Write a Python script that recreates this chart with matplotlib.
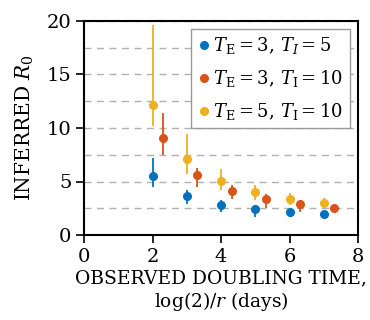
import matplotlib
matplotlib.use("Agg")
import matplotlib.pyplot as plt
from matplotlib.ticker import MultipleLocator

plt.rcParams['font.family'] = ['DejaVu Serif']
plt.rcParams['mathtext.fontset'] = 'dejavuserif'

# Data
x_blue = [2, 3, 4, 5, 6, 7]
y_blue = [5.55, 3.65, 2.83, 2.40, 2.12, 1.93]
lo_blue = [4.46, 2.9, 2.12, 1.71, 1.71, 1.62]
hi_blue = [7.17, 4.2, 3.27, 2.8, 2.49, 2.18]

x_red = [2.31, 3.31, 4.31, 5.31, 6.31, 7.31]
y_red = [9.1, 5.6, 4.14, 3.36, 2.9, 2.55]
lo_red = [7.5, 4.46, 3.33, 2.55, 2.12, 2.12]
hi_red = [11.4, 6.3, 4.67, 3.8, 3.27, 2.87]

x_yel = [2, 3, 4, 5, 6, 7]
y_yel = [12.15, 7.1, 5.07, 4.02, 3.39, 2.99]
lo_yel = [10.2, 5.7, 4.2, 3.27, 2.8, 2.49]
hi_yel = [19.6, 9.44, 6.17, 4.67, 3.95, 3.43]

labels = [r'$T_\mathrm{E} = 3,\, T_I = 5$',
          r'$T_\mathrm{E} = 3,\, T_\mathrm{I} = 10$',
          r'$T_\mathrm{E} = 5,\, T_\mathrm{I} = 10$']
colors = ['#0072BD', '#D95319', '#EDB120']

fig = plt.figure(figsize=(3.7, 3.2), dpi=100)
ax = fig.add_axes([84/370, 1-235/320, (358-84)/370, (235-21)/320])

series = [(x_blue, y_blue, lo_blue, hi_blue),
          (x_red, y_red, lo_red, hi_red),
          (x_yel, y_yel, lo_yel, hi_yel)]
handles = []
for (xs, ys, lo, hi), c, lab in zip(series, colors, labels):
    err = [[y - l for y, l in zip(ys, lo)], [h - y for y, h in zip(ys, hi)]]
    cont = ax.errorbar(xs, ys, yerr=err, fmt='o', color=c, ms=5.5, elinewidth=1.3,
                       capsize=0, label=lab)
    handles.append(cont[0])

ax.set_xlim(0, 8)
ax.set_ylim(0, 20)
ax.xaxis.set_major_locator(MultipleLocator(2))
ax.yaxis.set_major_locator(MultipleLocator(5))
ax.yaxis.set_minor_locator(MultipleLocator(2.5))
ax.grid(which='both', axis='y', color='#b0b0b0', linestyle=(0, (5, 4)), linewidth=1)
ax.set_axisbelow(True)
ax.tick_params(which='major', direction='out', length=6, width=1.2, labelsize=14, pad=3)
ax.tick_params(which='minor', length=0)
for s in ax.spines.values():
    s.set_linewidth(1.5)

ax.set_xlabel('OBSERVED DOUBLING TIME,\n' + r'$\log(2)/r$ (days)', fontsize=13.4,
              linespacing=1.15, labelpad=3)
ax.set_ylabel(r'INFERRED $R_0$', fontsize=14.5, labelpad=8)

leg = ax.legend(handles, labels, loc='upper right', fontsize=13, handletextpad=0.1,
                handlelength=0.8, borderpad=0.35, labelspacing=0.65, fancybox=False,
                framealpha=1, edgecolor='#999999', borderaxespad=0.45)
leg.get_frame().set_linewidth(1)

fig.savefig('out.png', dpi=100)
